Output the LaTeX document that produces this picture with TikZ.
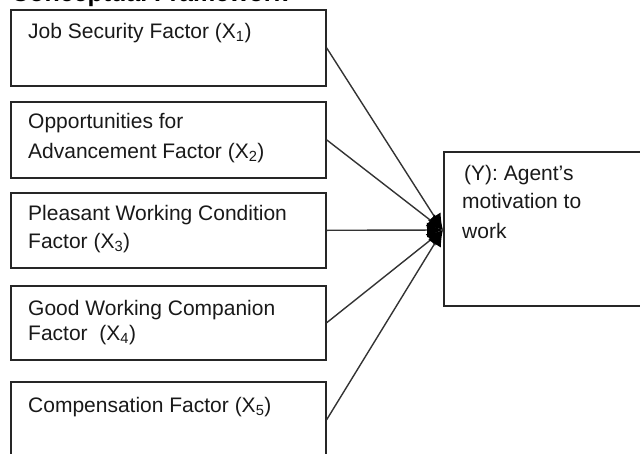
\documentclass[tikz,border=0pt]{standalone}
\usepackage{fontspec}
\setmainfont{Liberation Sans}
\usetikzlibrary{arrows.meta}
\begin{document}
\begin{tikzpicture}[x=1pt,y=-1pt,
  box/.style={draw=black!85,line width=1.6pt,minimum width=315pt,anchor=north west,inner sep=0pt},
  txt/.style={anchor=base west,inner sep=0pt,font=\fontsize{21}{29}\selectfont,text=black!90},
  link/.style={draw=black!80,line width=1.4pt,-{Latex[length=16pt,width=15pt,fill=black,color=black]}}]
\useasboundingbox (0,0) rectangle (640,453);
\node[anchor=base west,inner sep=0pt,font=\fontsize{25}{30}\selectfont\bfseries] (title) at (11,1) {Conceptual Framework};
\node[box,minimum height=76pt] (b1) at (10,9) {};
\node[box,minimum height=76pt] (b2) at (10,101) {};
\node[box,minimum height=75pt] (b3) at (10,192) {};
\node[box,minimum height=74pt] (b4) at (10,285) {};
\node[box,minimum height=76pt] (b5) at (10,381) {};
\node[draw=black!85,line width=1.6pt,anchor=north west,minimum width=220pt,minimum height=154pt,inner sep=0pt] (y) at (443,151) {};
\node[txt] (t1) at (28,38) {Job Security Factor (X\textsubscript{1})};
\node[txt] (t2a) at (28,128) {Opportunities for};
\node[txt] (t2b) at (28,158) {Advancement Factor (X\textsubscript{2})};
\node[txt] (t3a) at (28,220) {Pleasant Working Condition};
\node[txt] (t3b) at (28,248) {Factor (X\textsubscript{3})};
\node[txt] (t4a) at (28,315) {Good Working Companion};
\node[txt] (t4b) at (28,340) {Factor\ \ (X\textsubscript{4})};
\node[txt] (t5) at (28,412) {Compensation Factor (X\textsubscript{5})};
\node[txt] (ya) at (464,180) {(Y): Agent\symbol{"0027}s};
\node[txt] (yb) at (462,208) {motivation to};
\node[txt] (yc) at (462,238) {work};
\coordinate (tip) at (443,230);
\foreach \b in {b1,b2,b3,b4,b5} \draw[link] (\b.east) -- (tip);
\end{tikzpicture}
\end{document}
